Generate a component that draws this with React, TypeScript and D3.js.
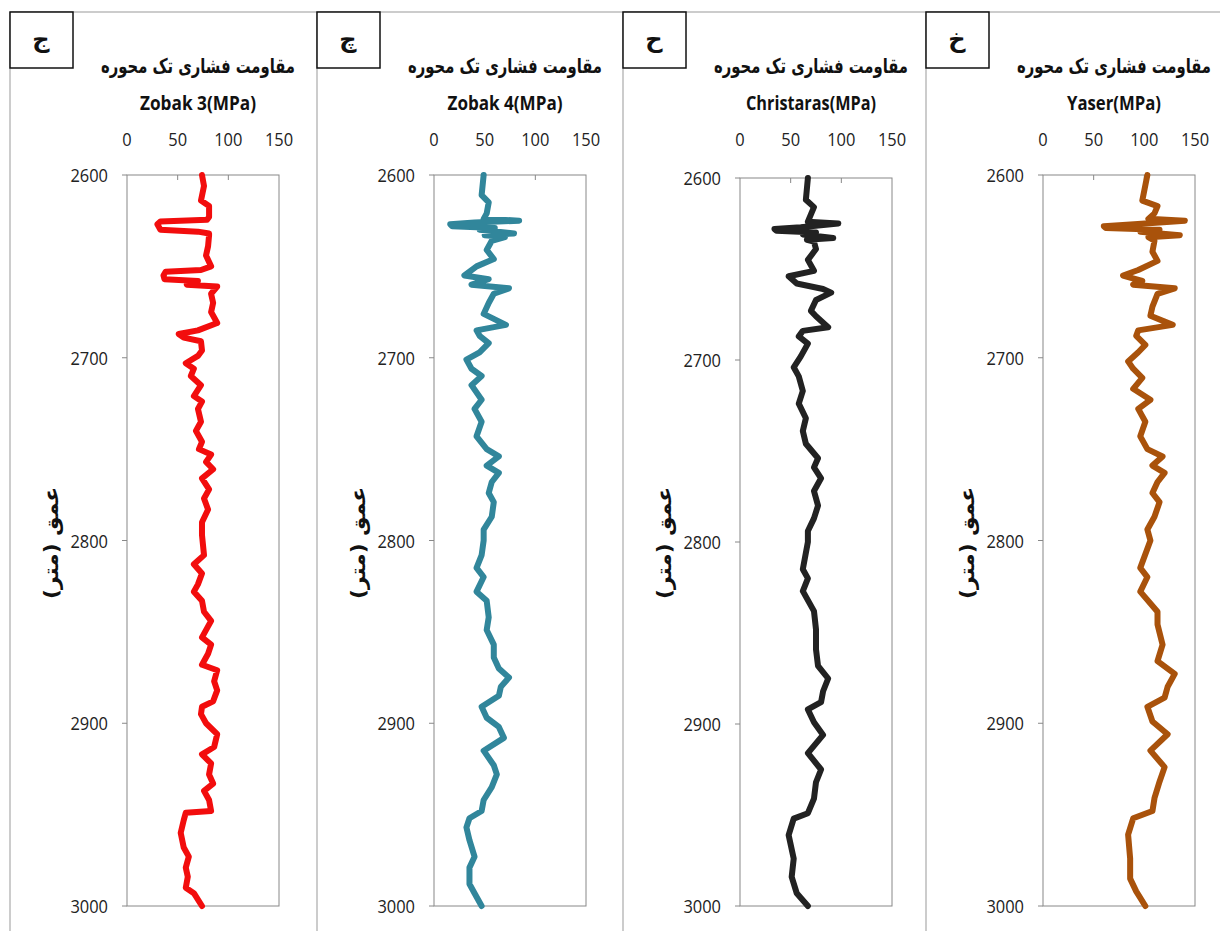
import React from 'react';
import * as d3 from 'd3';

const zobak3Depth = [2600, 2606, 2614, 2617, 2623, 2624.5, 2625.5, 2627, 2630, 2631, 2632, 2633, 2639, 2644, 2650, 2652, 2653, 2655, 2657, 2658, 2660, 2661, 2665, 2670, 2675, 2681, 2685, 2687, 2689, 2691, 2696, 2699, 2703, 2706, 2710, 2715, 2721, 2724, 2728, 2735, 2740, 2746, 2750, 2753, 2757, 2761, 2766, 2772, 2777, 2783, 2790, 2797, 2808, 2813, 2818, 2824, 2828, 2833, 2839, 2844, 2847, 2853, 2857, 2862, 2868, 2871, 2877, 2882, 2888, 2891, 2895, 2900, 2906, 2913, 2917, 2922, 2928, 2933, 2937, 2942, 2948, 2949, 2953, 2960, 2968, 2973, 2979, 2984, 2990, 2993, 3000];
const zobak3Mpa = [74, 76, 73, 81, 81, 79, 33, 30, 33, 70, 81, 81, 80, 78, 83, 73, 38, 36, 37, 70, 59, 89, 83, 85, 83, 89, 70, 51, 56, 73, 74, 70, 58, 66, 63, 73, 66, 74, 70, 73, 68, 74, 71, 83, 78, 85, 74, 81, 76, 80, 74, 74, 76, 66, 74, 70, 66, 74, 76, 83, 80, 74, 83, 80, 74, 89, 86, 89, 85, 74, 73, 78, 89, 86, 74, 83, 81, 85, 76, 81, 83, 58, 56, 53, 56, 61, 58, 60, 58, 66, 74];

const zobak4Depth = [2600, 2611, 2615, 2621, 2624, 2625, 2626, 2627, 2628, 2629, 2630, 2632, 2633, 2634, 2636, 2641, 2646, 2650, 2655, 2657, 2660, 2662, 2665, 2670, 2676, 2682, 2685, 2688, 2692, 2697, 2701, 2706, 2710, 2715, 2723, 2728, 2735, 2743, 2750, 2754, 2759, 2763, 2768, 2774, 2779, 2787, 2794, 2800, 2808, 2815, 2820, 2828, 2833, 2842, 2849, 2857, 2864, 2870, 2875, 2880, 2885, 2891, 2897, 2902, 2908, 2915, 2923, 2928, 2935, 2942, 2948, 2952, 2957, 2964, 2973, 2979, 2988, 2993, 3000];
const zobak4Mpa = [49, 47, 54, 52, 49, 84, 40, 16, 18, 60, 45, 79, 50, 70, 57, 52, 59, 42, 30, 54, 37, 74, 59, 54, 49, 71, 42, 45, 54, 45, 32, 37, 47, 37, 47, 40, 47, 42, 52, 64, 52, 64, 57, 54, 59, 57, 49, 49, 47, 42, 49, 42, 52, 54, 52, 59, 59, 64, 74, 66, 64, 47, 52, 64, 69, 49, 59, 62, 57, 49, 47, 35, 32, 35, 40, 35, 35, 40, 47];

const christarasDepth = [2600, 2612, 2616, 2620, 2624, 2625, 2627, 2628, 2629, 2630, 2631, 2633, 2634, 2635, 2639, 2645, 2651, 2654, 2658, 2661, 2663, 2667, 2673, 2676, 2682, 2684, 2687, 2691, 2698, 2704, 2709, 2717, 2724, 2732, 2739, 2746, 2754, 2759, 2765, 2772, 2780, 2787, 2794, 2800, 2815, 2820, 2827, 2838, 2848, 2859, 2868, 2875, 2882, 2888, 2892, 2899, 2906, 2916, 2925, 2932, 2941, 2949, 2952, 2961, 2974, 2984, 2993, 3000];
const christarasMpa = [67, 65, 73, 70, 67, 97, 60, 34, 36, 75, 62, 92, 66, 73, 75, 67, 73, 48, 56, 82, 90, 75, 70, 75, 87, 62, 58, 67, 60, 53, 58, 62, 58, 65, 62, 65, 77, 73, 80, 73, 77, 73, 67, 67, 62, 67, 62, 73, 75, 75, 77, 87, 82, 80, 67, 73, 82, 67, 80, 75, 73, 67, 53, 48, 53, 51, 56, 67];

const yaserDepth = [2600, 2614, 2617, 2621, 2624, 2625, 2627, 2628, 2629, 2630, 2631, 2633, 2634, 2636, 2642, 2647, 2652, 2655, 2658, 2660, 2662, 2665, 2672, 2677, 2682, 2685, 2688, 2693, 2697, 2702, 2706, 2711, 2717, 2723, 2728, 2735, 2743, 2750, 2754, 2759, 2763, 2768, 2774, 2779, 2787, 2794, 2800, 2815, 2820, 2828, 2839, 2846, 2857, 2866, 2873, 2880, 2886, 2891, 2899, 2906, 2915, 2924, 2932, 2941, 2948, 2952, 2961, 2974, 2985, 2992, 3000];
const yaserMpa = [103, 98, 113, 110, 104, 140, 90, 60, 62, 115, 96, 135, 104, 110, 108, 113, 94, 79, 98, 89, 130, 113, 108, 106, 128, 94, 92, 101, 94, 84, 89, 98, 89, 106, 94, 101, 96, 103, 118, 108, 120, 113, 108, 115, 110, 103, 106, 96, 103, 96, 113, 113, 118, 113, 130, 123, 120, 103, 108, 123, 106, 120, 115, 110, 108, 89, 84, 86, 86, 92, 101];

const panelLetters = ['ج', 'چ', 'ح', 'خ'];
const seriesNames = ['Zobak  3(MPa)', 'Zobak  4(MPa)', 'Christaras(MPa)', 'Yaser(MPa)'];
const seriesColors = ['#f20d0d', '#31869b', '#222222', '#a9520b'];
const seriesDepths = [zobak3Depth, zobak4Depth, christarasDepth, yaserDepth];
const seriesValues = [zobak3Mpa, zobak4Mpa, christarasMpa, yaserMpa];
const strengthTicks = [0, 50, 100, 150];
const depthTicks = [2600, 2700, 2800, 2900, 3000];

const chartTitle = 'مقاومت فشاری تک محوره';
const depthTitle = 'عمق (متر)';

// layout
const W = 1220;
const H = 931;
const panelLeft = [10, 317, 623, 926];
const plotTop = [175, 175, 178, 175];
const plotBottom = 906;
const plotW = 152;
const nameWidth = [116, 115, 130, 94];
const latin = '"Open Sans", "Liberation Sans", sans-serif';
const farsi = '"DejaVu Sans", "Noto Sans", sans-serif';
const digitW = 9.4; // the source font is a narrow one

const Panel: React.FC<{ i: number }> = ({ i }) => {
  const left = panelLeft[i];
  const px = left + 117;
  const x = d3.scaleLinear().domain([0, 150]).range([px, px + plotW]);
  const y = d3.scaleLinear().domain([2600, 3000]).range([plotTop[i], plotBottom]);
  const pts = seriesDepths[i].map((d, k) => [seriesValues[i][k], d] as [number, number]);
  const line = d3.line<[number, number]>()
    .x(p => x(p[0]))
    .y(p => y(p[1]));
  const cx = px + plotW / 2 - 5;

  return (
    <g>
      {/* label box */}
      <rect x={left} y={12} width={63} height={56} fill="#fff" stroke="#111" strokeWidth={1.5} />
      <text x={left + 31} y={40} textAnchor="middle" dominantBaseline="middle"
        fontFamily={farsi} fontWeight="bold" fontSize={24} fill="#111">{panelLetters[i]}</text>

      {/* headings */}
      <text x={cx} y={67} textAnchor="middle" dominantBaseline="middle" fontFamily={farsi}
        fontWeight="bold" fontSize={20} textLength={194} lengthAdjust="spacingAndGlyphs" fill="#111">{chartTitle}</text>
      <text x={cx} y={105} textAnchor="middle" dominantBaseline="middle" fontFamily={latin}
        fontWeight="bold" fontSize={19} textLength={nameWidth[i]} lengthAdjust="spacingAndGlyphs" fill="#111">{seriesNames[i]}</text>

      {/* strength axis on top */}
      {strengthTicks.map(t => (
        <text key={t} x={x(t)} y={141} textAnchor="middle" dominantBaseline="middle"
          fontFamily={latin} fontSize={19} textLength={String(t).length * digitW}
          lengthAdjust="spacingAndGlyphs" fill="#222">{t}</text>
      ))}
      {strengthTicks.slice(1, 3).map(t => (
        <line key={t} x1={x(t)} x2={x(t)} y1={plotTop[i]} y2={plotTop[i] + 5} stroke="#888" />
      ))}

      {/* depth axis */}
      {depthTicks.map(t => (
        <g key={t}>
          <line x1={px - 5} x2={px} y1={y(t)} y2={y(t)} stroke="#888" />
          <text x={px - 19} y={y(t) + 2} textAnchor="end" dominantBaseline="middle"
            fontFamily={latin} fontSize={19} textLength={4 * digitW}
            lengthAdjust="spacingAndGlyphs" fill="#222">{t}</text>
        </g>
      ))}
      <text transform={`translate(${left + 42},${543}) rotate(-90)`} textAnchor="middle"
        dominantBaseline="middle" fontFamily={farsi} fontWeight="bold" fontSize={20}
        textLength={112} lengthAdjust="spacingAndGlyphs" fill="#111">{depthTitle}</text>

      {/* plot frame and log trace */}
      <rect x={px} y={plotTop[i]} width={plotW} height={plotBottom - plotTop[i]} fill="none" stroke="#888" />
      <path d={line(pts) ?? ''} fill="none" stroke={seriesColors[i]} strokeWidth={6}
        strokeLinejoin="round" strokeLinecap="round" />
    </g>
  );
};

const App: React.FC = () => (
  <svg width={W} height={H} style={{ position: 'absolute', left: 0, top: 0, background: '#fff' }}>
    <rect width={W} height={H} fill="#fff" />
    <line x1={10} x2={W} y1={12} y2={12} stroke="#999" />
    {panelLeft.map(l => (
      <line key={l} x1={l} x2={l} y1={12} y2={H} stroke="#999" />
    ))}
    {panelLetters.map((_, i) => <Panel key={i} i={i} />)}
  </svg>
);

export default App;
